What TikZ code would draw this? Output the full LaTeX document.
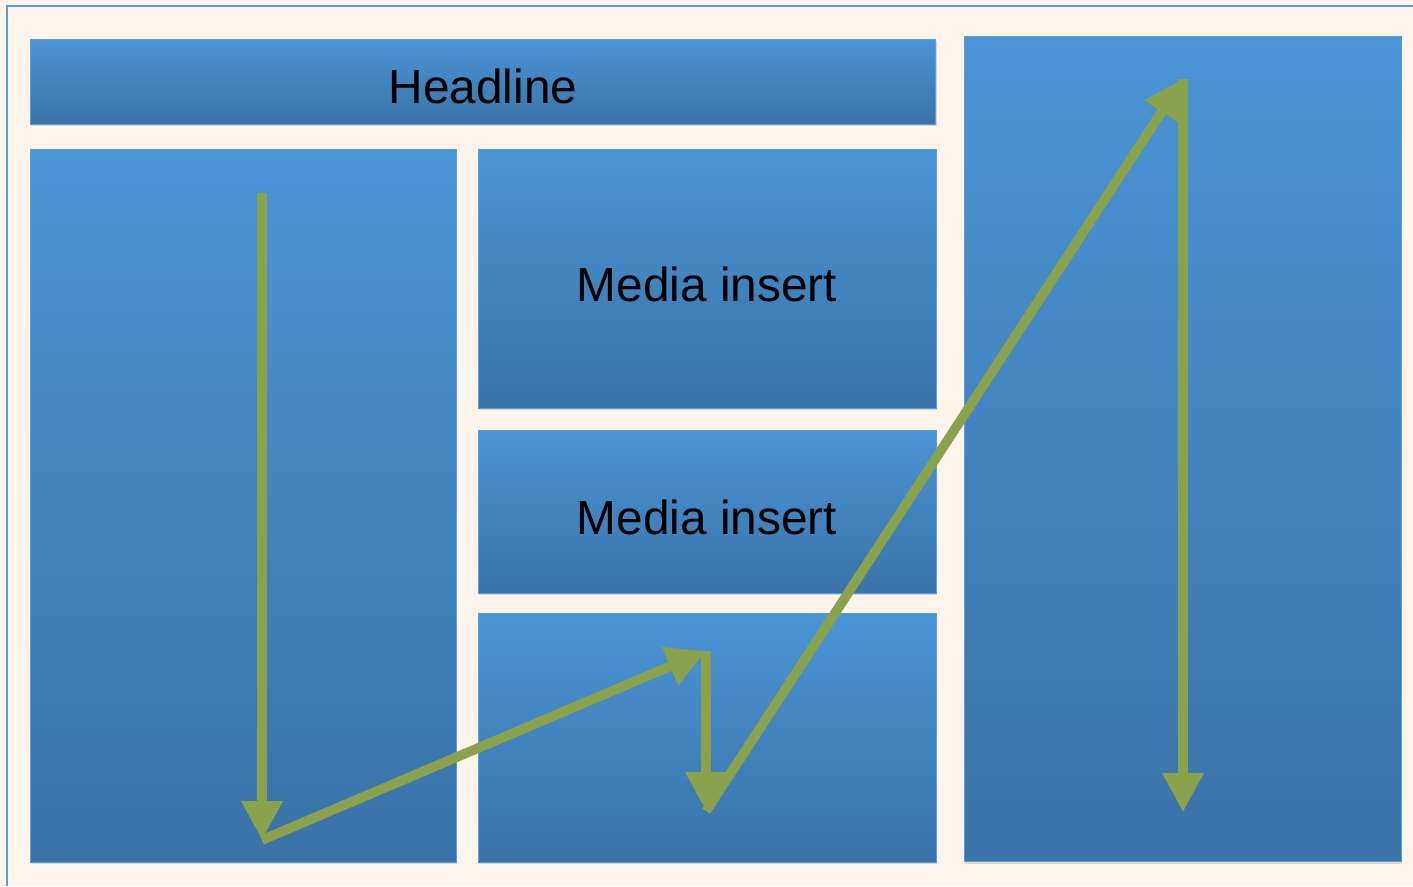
\documentclass[tikz,border=0pt]{standalone}
\usepackage{fontspec}
\setmainfont{Liberation Sans}
\usepackage{tikz}
\usetikzlibrary{arrows.meta,shadows}

\definecolor{paper}{HTML}{FDF5EC}
\definecolor{framecol}{HTML}{5B9BD5}
\definecolor{boxtop}{HTML}{4A95D6}
\definecolor{boxbot}{HTML}{3A73A8}
\definecolor{boxedge}{HTML}{5A9CD6}
\definecolor{readgreen}{HTML}{8AA24C}

\tikzset{
  panel/.style={rectangle, inner sep=0pt, top color=boxtop, bottom color=boxbot,
                draw=boxedge, line width=0.5pt,
                drop shadow={shadow xshift=0.6pt, shadow yshift=-1.4pt, opacity=0.28},
                text height=0.9cm, text depth=0pt,
                font=\fontsize{27.2}{32}\selectfont},
  readpath/.style={draw=readgreen, line width=5.5pt,
                   -{Triangle[width=0.78cm, length=0.78cm]}},
}

\begin{document}
\begin{tikzpicture}[x=0.02cm, y=-0.02cm]
        \useasboundingbox [fill=paper] (0,0) rectangle (1413,886);          %
        \draw [framecol, line width=0.6pt] (7,886) -- (7,6) -- (1413,6);    % page frame

        \node [panel, minimum width=18.12cm, minimum height=1.70cm]  (headline) at (483,81.5)  {Headline};
        \node [panel, minimum width=8.52cm,  minimum height=14.26cm] (leftcol)  at (243,505.5) {};
        \node [panel, minimum width=9.16cm,  minimum height=5.18cm]  (media1)   at (707,278.5) {Media insert};
        \node [panel, minimum width=9.16cm,  minimum height=3.26cm]  (media2)   at (707,511.5) {Media insert};
        \node [panel, minimum width=9.16cm,  minimum height=4.98cm]  (lowbox)   at (707,737.5) {};
        \node [panel, minimum width=8.74cm,  minimum height=16.52cm] (rightcol) at (1182.5,449) {};

        \coordinate (p0) at (262,193);                                      % reading path
        \coordinate (p1) at (262,840);                                      %
        \coordinate (p2) at (706,651);                                      %
        \coordinate (p3) at (706,811);                                      %
        \coordinate (p4) at (1183,79);                                      %
        \coordinate (p5) at (1183,812);                                     %

        \draw [readpath] (p0) -- (p1);                                      % down left column
        \draw [readpath] (p1) -- (p2);                                      %
        \draw [readpath] (p2) -- (p3);                                      %
        \draw [readpath] (p3) -- (p4);                                      %
        \draw [readpath] (p4) -- (p5);                                      % down right column
\end{tikzpicture}
\end{document}
